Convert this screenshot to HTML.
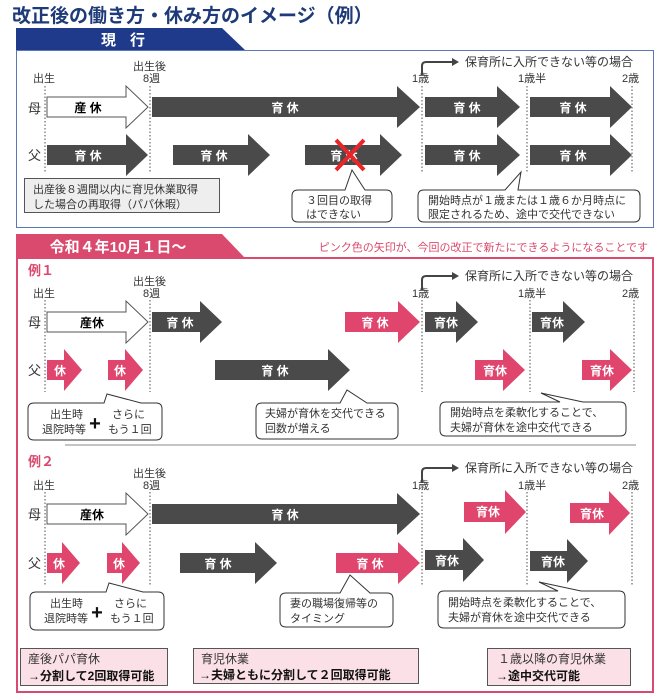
<!DOCTYPE html>
<html><head><meta charset="utf-8"><style>
html,body{margin:0;padding:0;background:#fff}
svg{display:block;font-family:"Liberation Sans","Noto Sans CJK JP",sans-serif}
.d{fill:#4a4a4a}.p{fill:#e0456e}.w{fill:#fff;stroke:#555;stroke-width:1}
.at{fill:#fff;font-size:12px;font-weight:bold;text-anchor:middle}
.lb{font-size:11px;fill:#333}
.dot{stroke:#777;stroke-width:1.3;stroke-dasharray:1.5 2}
.co{fill:#fff;stroke:#333;stroke-width:1}
.ct{font-size:11px;fill:#333}
</style></head><body>
<svg width="669" height="696" viewBox="0 0 669 696">
<text x="12" y="22" font-size="19" font-weight="bold" fill="#1e3a78">改正後の働き方・休み方のイメージ（例）</text>
<!-- 現行 -->
<polygon points="16,28 222,28 245,50 16,50" fill="#1f3a8a"/>
<text x="130" y="45" font-size="15" font-weight="bold" fill="#fff" text-anchor="middle" letter-spacing="14">現行</text>
<rect x="16.5" y="50.5" width="637" height="177" fill="none" stroke="#5a78b8" stroke-width="1"/>
<g class="lb">
<text x="33" y="82">出生</text>
<text x="133" y="70">出生後</text><text x="143" y="82">8週</text>
<text x="412" y="82">1歳</text><text x="518" y="82">1歳半</text><text x="622" y="82">2歳</text>
</g>
<path d="M422,75 V66 Q422,62 426,62 H452" fill="none" stroke="#444" stroke-width="2"/>
<polygon points="452,58 459,62 452,66" fill="#444"/>
<text x="465" y="66" font-size="12" fill="#333">保育所に入所できない等の場合</text>
<g class="dot"><line x1="45" y1="86" x2="45" y2="172"/><line x1="150" y1="86" x2="150" y2="172"/><line x1="422" y1="86" x2="422" y2="172"/><line x1="527" y1="86" x2="527" y2="172"/><line x1="632" y1="86" x2="632" y2="172"/></g>
<text x="28" y="113" font-size="13" fill="#333">母</text>
<text x="28" y="160" font-size="13" fill="#333">父</text>
<polygon class="w" points="47,97 126,97 126,86 148,107 126,128 126,117 47,117"/>
<text x="88" y="112" font-size="12" font-weight="bold" text-anchor="middle">産 休</text>
<polygon class="d" points="152,97 397,97 397,86 420,107 397,128 397,117 152,117"/><text class="at" x="285" y="112">育 休</text>
<polygon class="d" points="425,97 497,97 497,86 520,107 497,128 497,117 425,117"/><text class="at" x="467" y="112">育 休</text>
<polygon class="d" points="530,97 610,97 610,86 632,107 610,128 610,117 530,117"/><text class="at" x="573" y="112">育 休</text>
<polygon class="d" points="47,145 126,145 126,134 148,155 126,176 126,165 47,165"/><text class="at" x="88" y="160">育 休</text>
<polygon class="d" points="173,145 248,145 248,134 270,155 248,176 248,165 173,165"/><text class="at" x="214" y="160">育 休</text>
<polygon class="d" points="305,145 380,145 380,134 402,155 380,176 380,165 305,165"/><text class="at" x="344" y="160">育 休</text>
<polygon class="d" points="425,145 497,145 497,134 520,155 497,176 497,165 425,165"/><text class="at" x="467" y="160">育 休</text>
<polygon class="d" points="530,145 610,145 610,134 632,155 610,176 610,165 530,165"/><text class="at" x="573" y="160">育 休</text>
<g stroke="#e8262a" stroke-width="4"><line x1="336" y1="140" x2="364" y2="170"/><line x1="364" y1="140" x2="336" y2="170"/></g>
<rect x="24.5" y="178.5" width="195" height="34" fill="#eeeeee" stroke="#555"/>
<text class="ct" x="33" y="193">出産後８週間以内に育児休業取得</text>
<text class="ct" x="33" y="208">した場合の再取得（パパ休暇）</text>
<path class="co" d="M298,190 H345 L352,170 L365,190 H386 Q392,190 392,196 V216 Q392,222 386,222 H298 Q292,222 292,216 V196 Q292,190 298,190 Z"/>
<text class="ct" x="306" y="204">３回目の取得</text><text class="ct" x="306" y="218">はできない</text>
<path class="co" d="M424,190 H505 L521,172 L518,190 H634 Q640,190 640,196 V216 Q640,222 634,222 H424 Q418,222 418,216 V196 Q418,190 424,190 Z"/>
<text class="ct" x="428" y="204">開始時点が１歳または１歳６か月時点に</text><text class="ct" x="428" y="218">限定されるため、途中で交代できない</text>

<!-- 令和 -->
<polygon points="16,234 222,234 245,258 16,258" fill="#d94a6e"/>
<text x="118" y="252" font-size="15" font-weight="bold" fill="#fff" text-anchor="middle">令和４年10月１日～</text>
<text x="648" y="251" font-size="11" fill="#d94a6e" text-anchor="end">ピンク色の矢印が、今回の改正で新たにできるようになることです</text>
<rect x="17" y="258" width="636" height="434" fill="none" stroke="#d94a6e" stroke-width="2"/>

<!-- 例1 -->
<text x="28" y="275" font-size="13" font-weight="bold" fill="#d94a6e">例１</text>
<g class="lb">
<text x="33" y="297">出生</text>
<text x="133" y="285">出生後</text><text x="143" y="297">8週</text>
<text x="412" y="297">1歳</text><text x="518" y="297">1歳半</text><text x="622" y="297">2歳</text>
</g>
<path d="M422,290 V280 Q422,276 426,276 H452" fill="none" stroke="#444" stroke-width="2"/>
<polygon points="452,272 459,276 452,280" fill="#444"/>
<text x="465" y="280" font-size="12" fill="#333">保育所に入所できない等の場合</text>
<g class="dot"><line x1="45" y1="300" x2="45" y2="392"/><line x1="150" y1="300" x2="150" y2="392"/><line x1="422" y1="300" x2="422" y2="392"/><line x1="530" y1="300" x2="530" y2="392"/><line x1="634" y1="300" x2="634" y2="392"/></g>
<text x="28" y="327" font-size="13" fill="#333">母</text>
<text x="28" y="375" font-size="13" fill="#333">父</text>
<polygon class="w" points="47,312 126,312 126,301 148,322 126,343 126,332 47,332"/>
<text x="92" y="327" font-size="12" font-weight="bold" text-anchor="middle">産休</text>
<polygon class="d" points="152,312 200,312 200,301 222,322 200,343 200,332 152,332"/><text class="at" x="180" y="327">育 休</text>
<polygon class="p" points="345,312 398,312 398,301 420,322 398,343 398,332 345,332"/><text class="at" x="375" y="327">育 休</text>
<polygon class="d" points="425,312 456,312 456,301 478,322 456,343 456,332 425,332"/><text class="at" x="446" y="327">育休</text>
<polygon class="d" points="532,312 563,312 563,301 585,322 563,343 563,332 532,332"/><text class="at" x="552" y="327">育休</text>
<polygon class="p" points="47,360 64,360 64,349 82,370 64,391 64,380 47,380"/><text class="at" x="60" y="375">休</text>
<polygon class="p" points="108,360 125,360 125,349 143,370 125,391 125,380 108,380"/><text class="at" x="120" y="375">休</text>
<polygon class="d" points="215,360 328,360 328,349 350,370 328,391 328,380 215,380"/><text class="at" x="275" y="375">育 休</text>
<polygon class="p" points="475,360 503,360 503,349 525,370 503,391 503,380 475,380"/><text class="at" x="495" y="375">育休</text>
<polygon class="p" points="582,360 610,360 610,349 632,370 610,391 610,380 582,380"/><text class="at" x="602" y="375">育休</text>
<path class="co" d="M34,403 H104 L107,394 L141,403 H156 Q162,403 162,409 V434 Q162,440 156,440 H34 Q28,440 28,434 V409 Q28,403 34,403 Z"/>
<text class="ct" x="50" y="418">出生時</text><text class="ct" x="42" y="433">退院時等</text>
<text x="95" y="430" font-size="20" font-weight="bold" text-anchor="middle" fill="#111">+</text>
<text class="ct" x="112" y="418">さらに</text><text class="ct" x="108" y="433">もう１回</text>
<path class="co" d="M262,403 H340 L347,390 L367,403 H392 Q398,403 398,409 V433 Q398,439 392,439 H262 Q256,439 256,433 V409 Q256,403 262,403 Z"/>
<text class="ct" x="265" y="417">夫婦が育休を交代できる</text><text class="ct" x="265" y="432">回数が増える</text>
<path class="co" d="M446,402 H560 L541,393 L583,402 H620 Q626,402 626,408 V430 Q626,436 620,436 H446 Q440,436 440,430 V408 Q440,402 446,402 Z"/>
<text class="ct" x="450" y="416">開始時点を柔軟化することで、</text><text class="ct" x="450" y="431">夫婦が育休を途中交代できる</text>
<line x1="65" y1="445" x2="636" y2="445" stroke="#888" stroke-width="1"/>

<!-- 例2 -->
<text x="28" y="466" font-size="13" font-weight="bold" fill="#d94a6e">例２</text>
<g class="lb">
<text x="33" y="489">出生</text>
<text x="133" y="477">出生後</text><text x="143" y="489">8週</text>
<text x="412" y="489">1歳</text><text x="518" y="489">1歳半</text><text x="622" y="489">2歳</text>
</g>
<path d="M422,483 V472 Q422,468 426,468 H452" fill="none" stroke="#444" stroke-width="2"/>
<polygon points="452,464 459,468 452,472" fill="#444"/>
<text x="465" y="472" font-size="12" fill="#333">保育所に入所できない等の場合</text>
<g class="dot"><line x1="45" y1="492" x2="45" y2="585"/><line x1="150" y1="492" x2="150" y2="585"/><line x1="422" y1="492" x2="422" y2="585"/><line x1="527" y1="492" x2="527" y2="585"/><line x1="632" y1="492" x2="632" y2="585"/></g>
<text x="28" y="519" font-size="13" fill="#333">母</text>
<text x="28" y="568" font-size="13" fill="#333">父</text>
<polygon class="w" points="47,504 126,504 126,493 148,514 126,535 126,524 47,524"/>
<text x="92" y="519" font-size="12" font-weight="bold" text-anchor="middle">産休</text>
<polygon class="d" points="152,504 397,504 397,493 420,514 397,535 397,524 152,524"/><text class="at" x="285" y="519">育 休</text>
<polygon class="p" points="464,502 505,502 505,490 526,512 505,534 505,522 464,522"/><text class="at" x="488" y="516">育休</text>
<polygon class="p" points="570,503 609,503 609,491 630,513 609,535 609,523 570,523"/><text class="at" x="592" y="518">育休</text>
<polygon class="p" points="47,553 62,553 62,542 80,563 62,584 62,573 47,573"/><text class="at" x="59" y="568">休</text>
<polygon class="p" points="107,553 122,553 122,542 140,563 122,584 122,573 107,573"/><text class="at" x="119" y="568">休</text>
<polygon class="d" points="180,553 255,553 255,542 277,563 255,584 255,573 180,573"/><text class="at" x="218" y="568">育 休</text>
<polygon class="p" points="336,553 398,553 398,542 420,563 398,584 398,573 336,573"/><text class="at" x="370" y="568">育 休</text>
<polygon class="d" points="425,550 463,550 463,538 484,560 463,582 463,570 425,570"/><text class="at" x="447" y="565">育休</text>
<polygon class="d" points="530,551 567,551 567,539 588,561 567,583 567,571 530,571"/><text class="at" x="553" y="566">育休</text>
<path class="co" d="M36,592 H106 L109,583 L143,592 H158 Q164,592 164,598 V624 Q164,630 158,630 H36 Q30,630 30,624 V598 Q30,592 36,592 Z"/>
<text class="ct" x="50" y="607">出生時</text><text class="ct" x="44" y="622">退院時等</text>
<text x="97" y="619" font-size="20" font-weight="bold" text-anchor="middle" fill="#111">+</text>
<text class="ct" x="114" y="607">さらに</text><text class="ct" x="110" y="622">もう１回</text>
<path class="co" d="M286,593 H340 L350,575 L370,593 H387 Q393,593 393,599 V621 Q393,627 387,627 H286 Q280,627 280,621 V599 Q280,593 286,593 Z"/>
<text class="ct" x="290" y="607">妻の職場復帰等の</text><text class="ct" x="290" y="622">タイミング</text>
<path class="co" d="M444,591 H558 L539,582 L581,591 H619 Q625,591 625,597 V622 Q625,628 619,628 H444 Q438,628 438,622 V597 Q438,591 444,591 Z"/>
<text class="ct" x="448" y="606">開始時点を柔軟化することで、</text><text class="ct" x="448" y="621">夫婦が育休を途中交代できる</text>

<rect x="20.5" y="648.5" width="147" height="37" fill="#fbe1e7" stroke="#555"/>
<text x="28" y="663" font-size="12" fill="#333">産後パパ育休</text>
<text x="28" y="680" font-size="12" font-weight="bold" fill="#111">→分割して2回取得可能</text>
<rect x="193.5" y="648.5" width="225" height="35" fill="#fbe1e7" stroke="#555"/>
<text x="201" y="663" font-size="12" fill="#333">育児休業</text>
<text x="199" y="679" font-size="12" font-weight="bold" fill="#111">→夫婦ともに分割して２回取得可能</text>
<rect x="487.5" y="648.5" width="143" height="37" fill="#fbe1e7" stroke="#555"/>
<text x="498" y="663" font-size="12" fill="#333">１歳以降の育児休業</text>
<text x="496" y="680" font-size="12" font-weight="bold" fill="#111">→途中交代可能</text>
</svg>
</body></html>
